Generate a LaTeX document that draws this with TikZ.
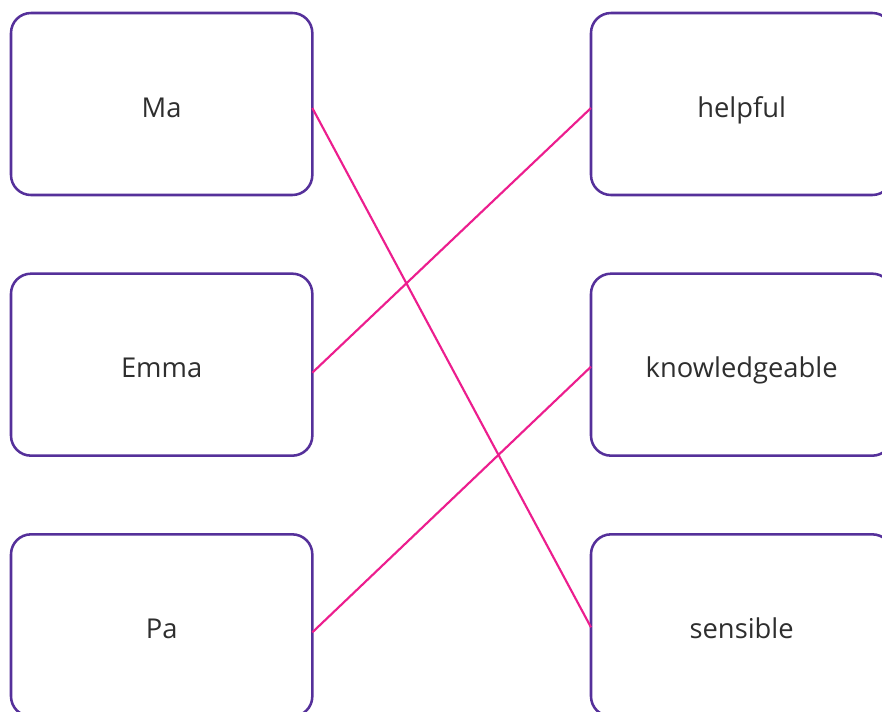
\documentclass[tikz,border=0pt]{standalone}
\usepackage{fontspec}
\setmainfont{Open Sans}
\usetikzlibrary{positioning}
\definecolor{boxpurple}{HTML}{55309A}
\definecolor{linkpink}{HTML}{EC1E8E}
\definecolor{textgray}{HTML}{2E2E2E}
\tikzset{
	namebox/.style={draw=boxpurple, line width=1.9pt, rounded corners=15pt, outer sep=0pt,
		minimum width=226pt, minimum height=136.5pt, text=textgray,
		text height=20.5pt, text depth=1pt,
		font=\fontsize{20.5}{24}\selectfont},
	link/.style={linkpink, line width=1.6pt}
}
\begin{document}
\begin{tikzpicture}
	\clip (0,0) rectangle (661.5pt,-533.25pt);
	% names
	\node[namebox, anchor=north west] (ma) at (8.25pt,-9.75pt) {Ma};
	\node[namebox, below=59pt of ma] (emma) {Emma};
	\node[namebox, below=59pt of emma] (pa) {Pa};
	% adjectives
	\node[namebox, right=209pt of ma] (helpful) {helpful};
	\node[namebox, below=59pt of helpful] (knowledgeable) {knowledgeable};
	\node[namebox, below=59pt of knowledgeable] (sensible) {sensible};
	% matches
	\draw[link] ([yshift=-3pt]ma.east) -- ([yshift=-1.5pt]sensible.west);
	\draw[link] ([yshift=-6pt]emma.east) -- ([yshift=-3pt]helpful.west);
	\draw[link] ([yshift=-5.25pt]pa.east) -- ([yshift=-1.5pt]knowledgeable.west);
\end{tikzpicture}
\end{document}
